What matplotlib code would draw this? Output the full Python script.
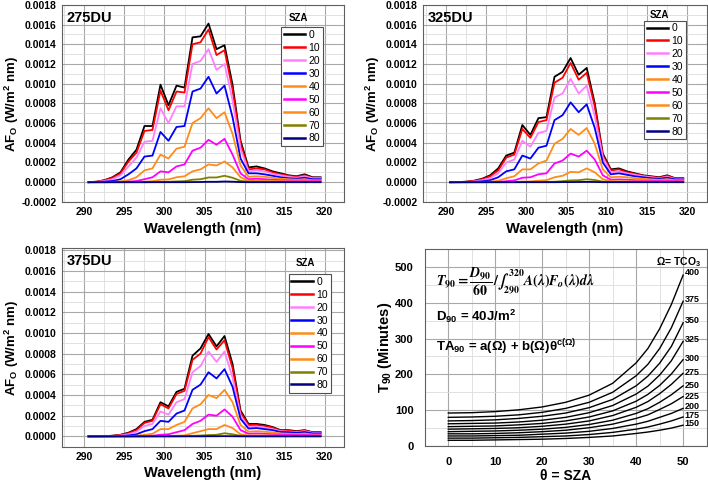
import matplotlib
matplotlib.use("Agg")
import matplotlib.pyplot as plt
from matplotlib.ticker import MultipleLocator, FormatStrFormatter

plt.rcParams['font.family'] = ['Liberation Sans', 'DejaVu Sans']
plt.rcParams['font.weight'] = 'bold'
plt.rcParams['axes.labelweight'] = 'bold'
plt.rcParams['mathtext.fontset'] = 'custom'
plt.rcParams['mathtext.rm'] = 'Liberation Sans:bold'
plt.rcParams['mathtext.it'] = 'Liberation Sans:bold'
plt.rcParams['mathtext.bf'] = 'Liberation Sans:bold'

# ---- data: action spectra AF_O, values in units of 1e-4 W/m^2 nm ----
wavelength = [290.5, 291.5, 292.5, 293.5, 294.5, 295.5, 296.5, 297.5, 298.5, 299.5,
              300.5, 301.5, 302.5, 303.5, 304.5, 305.5, 306.5, 307.5, 308.5, 309.5,
              310.5, 311.5, 312.5, 313.5, 314.5, 315.5, 316.5, 317.5, 318.5, 319.5]
sza_labels = ['0', '10', '20', '30', '40', '50', '60', '70', '80']
sza_colors = ['#000000', '#ff0000', '#ff80ff', '#0000ff', '#ff8c1a',
              '#ff00ff', '#ff8c1a', '#808000', '#000080']
AF_SCALE = 1e-4

af_275 = [
    [0.0, 0.05, 0.2, 0.5, 1.0, 2.3, 3.3, 5.7, 5.7, 9.9, 7.8, 9.8, 9.6, 14.7, 14.8, 16.1, 13.5, 13.9, 9.9, 4.2, 1.5, 1.6, 1.4, 1.1, 0.9, 0.7, 0.6, 0.8, 0.5, 0.5],
    [0.0, 0.04, 0.2, 0.45, 0.9, 2.1, 3.0, 5.2, 5.3, 9.3, 7.3, 9.2, 9.1, 14.0, 14.2, 15.5, 12.9, 13.4, 9.4, 3.9, 1.3, 1.4, 1.3, 1.0, 0.8, 0.65, 0.55, 0.7, 0.45, 0.45],
    [0.0, 0.03, 0.12, 0.3, 0.7, 1.6, 2.5, 4.1, 4.2, 7.5, 6.0, 7.7, 7.7, 12.0, 12.3, 13.5, 11.4, 12.0, 8.3, 3.4, 1.1, 1.2, 1.1, 0.85, 0.7, 0.55, 0.45, 0.6, 0.4, 0.4],
    [0.0, 0.01, 0.05, 0.12, 0.3, 0.8, 1.4, 2.6, 2.7, 5.1, 4.2, 5.6, 5.7, 9.2, 9.5, 10.7, 9.0, 9.8, 6.6, 2.4, 0.9, 0.9, 0.8, 0.65, 0.5, 0.4, 0.35, 0.45, 0.3, 0.3],
    [0.0, 0.0, 0.01, 0.03, 0.08, 0.2, 0.5, 1.2, 1.4, 2.8, 2.4, 3.4, 3.6, 6.0, 6.5, 7.5, 6.5, 7.1, 4.9, 1.7, 0.55, 0.6, 0.55, 0.45, 0.35, 0.3, 0.25, 0.3, 0.2, 0.2],
    [0.0, 0.0, 0.0, 0.01, 0.02, 0.05, 0.12, 0.3, 0.5, 1.1, 1.0, 1.6, 1.8, 3.2, 3.5, 4.3, 3.8, 4.4, 2.8, 0.9, 0.3, 0.35, 0.3, 0.25, 0.2, 0.17, 0.14, 0.17, 0.12, 0.12],
    [0.0, 0.0, 0.0, 0.0, 0.0, 0.01, 0.02, 0.05, 0.1, 0.25, 0.28, 0.5, 0.6, 1.1, 1.3, 1.8, 1.7, 2.1, 1.5, 0.5, 0.15, 0.15, 0.14, 0.12, 0.1, 0.08, 0.07, 0.08, 0.06, 0.06],
    [0.0, 0.0, 0.0, 0.0, 0.0, 0.0, 0.0, 0.0, 0.01, 0.03, 0.04, 0.08, 0.1, 0.25, 0.3, 0.48, 0.48, 0.65, 0.45, 0.14, 0.04, 0.04, 0.04, 0.03, 0.03, 0.02, 0.02, 0.02, 0.02, 0.02],
    [0.0, 0.0, 0.0, 0.0, 0.0, 0.0, 0.0, 0.0, 0.0, 0.0, 0.0, 0.0, 0.0, 0.01, 0.02, 0.04, 0.04, 0.07, 0.05, 0.01, 0.0, 0.0, 0.0, 0.0, 0.0, 0.0, 0.0, 0.0, 0.0, 0.0],
]

af_325 = [
    [0.0, 0.01, 0.05, 0.15, 0.35, 0.7, 1.4, 2.7, 3.0, 5.8, 4.8, 6.5, 6.6, 10.7, 11.2, 12.6, 10.9, 11.6, 8.0, 2.9, 1.3, 1.4, 1.1, 0.9, 0.7, 0.6, 0.5, 0.7, 0.4, 0.4],
    [0.0, 0.01, 0.04, 0.12, 0.3, 0.6, 1.2, 2.5, 2.8, 5.4, 4.5, 6.1, 6.3, 10.1, 10.6, 12.1, 10.4, 11.1, 7.7, 2.7, 1.2, 1.3, 1.0, 0.85, 0.65, 0.55, 0.45, 0.65, 0.38, 0.38],
    [0.0, 0.0, 0.02, 0.07, 0.2, 0.4, 0.9, 2.0, 2.3, 4.2, 3.6, 5.0, 5.2, 8.6, 9.0, 10.5, 9.0, 9.8, 6.7, 2.5, 1.0, 1.1, 0.9, 0.75, 0.6, 0.5, 0.4, 0.55, 0.32, 0.32],
    [0.0, 0.0, 0.01, 0.03, 0.08, 0.2, 0.5, 1.1, 1.3, 2.7, 2.4, 3.5, 3.7, 6.3, 6.8, 8.1, 7.1, 7.9, 5.5, 2.0, 0.8, 0.9, 0.75, 0.6, 0.5, 0.4, 0.35, 0.45, 0.28, 0.28],
    [0.0, 0.0, 0.0, 0.01, 0.02, 0.05, 0.15, 0.4, 0.6, 1.3, 1.3, 1.9, 2.2, 3.9, 4.4, 5.4, 4.8, 5.5, 3.9, 1.3, 0.5, 0.55, 0.5, 0.4, 0.35, 0.28, 0.24, 0.3, 0.2, 0.2],
    [0.0, 0.0, 0.0, 0.0, 0.0, 0.01, 0.03, 0.1, 0.18, 0.45, 0.5, 0.8, 0.9, 1.9, 2.2, 2.9, 2.6, 3.2, 2.3, 0.7, 0.25, 0.28, 0.25, 0.2, 0.17, 0.14, 0.12, 0.15, 0.1, 0.1],
    [0.0, 0.0, 0.0, 0.0, 0.0, 0.0, 0.0, 0.01, 0.02, 0.06, 0.08, 0.15, 0.2, 0.5, 0.65, 1.05, 1.0, 1.4, 1.0, 0.3, 0.1, 0.1, 0.09, 0.08, 0.07, 0.06, 0.05, 0.06, 0.04, 0.04],
    [0.0, 0.0, 0.0, 0.0, 0.0, 0.0, 0.0, 0.0, 0.0, 0.01, 0.01, 0.02, 0.03, 0.05, 0.1, 0.18, 0.2, 0.3, 0.22, 0.06, 0.02, 0.02, 0.02, 0.02, 0.01, 0.01, 0.01, 0.01, 0.01, 0.01],
    [0.0, 0.0, 0.0, 0.0, 0.0, 0.0, 0.0, 0.0, 0.0, 0.0, 0.0, 0.0, 0.0, 0.0, 0.01, 0.01, 0.02, 0.03, 0.02, 0.0, 0.0, 0.0, 0.0, 0.0, 0.0, 0.0, 0.0, 0.0, 0.0, 0.0],
]

af_375 = [
    [0.0, 0.0, 0.02, 0.06, 0.15, 0.35, 0.7, 1.4, 1.6, 3.3, 2.9, 4.3, 4.6, 7.8, 8.5, 9.9, 8.7, 9.7, 7.0, 2.5, 1.2, 1.2, 1.1, 0.9, 0.6, 0.6, 0.5, 0.6, 0.4, 0.4],
    [0.0, 0.0, 0.02, 0.05, 0.13, 0.3, 0.6, 1.3, 1.5, 3.1, 2.7, 4.1, 4.4, 7.4, 8.0, 9.6, 8.4, 9.3, 6.6, 2.3, 1.1, 1.1, 1.0, 0.85, 0.55, 0.55, 0.45, 0.55, 0.38, 0.38],
    [0.0, 0.0, 0.01, 0.03, 0.08, 0.2, 0.45, 1.0, 1.2, 2.4, 2.1, 3.3, 3.6, 6.2, 6.8, 8.2, 7.2, 8.2, 5.7, 2.0, 0.9, 0.95, 0.85, 0.7, 0.5, 0.45, 0.4, 0.5, 0.33, 0.33],
    [0.0, 0.0, 0.0, 0.01, 0.03, 0.08, 0.2, 0.5, 0.7, 1.5, 1.4, 2.2, 2.5, 4.5, 5.0, 6.2, 5.6, 6.5, 4.8, 1.7, 0.75, 0.8, 0.7, 0.6, 0.42, 0.4, 0.34, 0.42, 0.28, 0.28],
    [0.0, 0.0, 0.0, 0.0, 0.01, 0.02, 0.06, 0.15, 0.25, 0.7, 0.7, 1.1, 1.4, 2.7, 3.1, 4.0, 3.7, 4.5, 3.3, 1.1, 0.45, 0.5, 0.45, 0.38, 0.28, 0.26, 0.22, 0.27, 0.18, 0.18],
    [0.0, 0.0, 0.0, 0.0, 0.0, 0.0, 0.01, 0.03, 0.06, 0.15, 0.2, 0.4, 0.6, 1.2, 1.5, 2.1, 2.0, 2.6, 1.9, 0.6, 0.25, 0.28, 0.25, 0.2, 0.16, 0.15, 0.12, 0.15, 0.1, 0.1],
    [0.0, 0.0, 0.0, 0.0, 0.0, 0.0, 0.0, 0.0, 0.01, 0.02, 0.03, 0.06, 0.1, 0.3, 0.5, 0.7, 0.7, 1.1, 0.8, 0.2, 0.08, 0.1, 0.09, 0.08, 0.06, 0.05, 0.05, 0.06, 0.04, 0.04],
    [0.0, 0.0, 0.0, 0.0, 0.0, 0.0, 0.0, 0.0, 0.0, 0.0, 0.0, 0.01, 0.02, 0.05, 0.08, 0.12, 0.15, 0.3, 0.2, 0.05, 0.01, 0.01, 0.01, 0.01, 0.01, 0.01, 0.01, 0.01, 0.01, 0.01],
    [0.0, 0.0, 0.0, 0.0, 0.0, 0.0, 0.0, 0.0, 0.0, 0.0, 0.0, 0.0, 0.0, 0.0, 0.0, 0.01, 0.01, 0.02, 0.01, 0.0, 0.0, 0.0, 0.0, 0.0, 0.0, 0.0, 0.0, 0.0, 0.0, 0.0],
]

# ---- data: T90 (minutes) vs SZA for each total column ozone ----
theta = [0, 5, 10, 15, 20, 25, 30, 35, 40, 42.5, 45, 47.5, 50]
tco3 = ['400', '375', '350', '325', '300', '275', '250', '225', '200', '175', '150']
t90 = [
    [92, 93, 96, 101, 109, 122, 142, 175, 232, 272, 327, 395, 477],
    [80, 81, 83, 87, 94, 105, 122, 150, 196, 228, 272, 330, 404],
    [70, 71, 73, 77, 83, 92, 107, 130, 168, 195, 231, 278, 344],
    [62, 63, 64, 67, 72, 80, 93, 113, 145, 167, 198, 238, 292],
    [54, 55, 56, 59, 63, 70, 81, 98, 125, 144, 169, 201, 241],
    [47, 48, 49, 51, 55, 61, 70, 85, 108, 124, 146, 172, 203],
    [40, 41, 42, 44, 47, 52, 60, 72, 91, 104, 122, 143, 168],
    [34, 34, 35, 37, 40, 44, 51, 61, 77, 87, 102, 118, 138],
    [28, 28, 29, 30, 33, 36, 41, 49, 61, 69, 80, 91, 105],
    [22, 22, 23, 24, 26, 28, 32, 38, 47, 53, 61, 70, 81],
    [16, 16, 17, 18, 19, 21, 24, 28, 35, 39, 44, 50, 58],
]
label_y = [484, 410, 350, 297, 245, 206, 168, 137, 109, 86, 62]


def style_grid(ax):
    ax.grid(which='major', color='#a8a8a8', lw=0.8)
    ax.grid(which='minor', color='#dcdcdc', lw=0.6)
    ax.set_axisbelow(True)
    for s in ax.spines.values():
        s.set_color('#606060')
        s.set_linewidth(0.8)
    ax.tick_params(which='both', length=0, labelsize=7.5, pad=4)


def plot_af(rect, series, name, ylim, leg_xy, sza_xy):
    ax = fig.add_axes(rect)
    for vals, lab, c in zip(series, sza_labels, sza_colors):
        ax.plot(wavelength, [v * AF_SCALE for v in vals], color=c, lw=1.3, label=lab)
    ax.set_xlim(287.2, 322.4)
    ax.set_ylim(*ylim)
    ax.xaxis.set_major_locator(MultipleLocator(5))
    ax.xaxis.set_minor_locator(MultipleLocator(2.5))
    ax.yaxis.set_major_locator(MultipleLocator(0.0002))
    ax.yaxis.set_minor_locator(MultipleLocator(0.0001))
    ax.yaxis.set_major_formatter(FormatStrFormatter('%.4f'))
    style_grid(ax)
    ax.set_xlabel('Wavelength (nm)', fontsize=10.5, labelpad=3)
    ax.set_ylabel(r'AF$_\mathrm{O}$ (W/m$^2$ nm)', fontsize=9.5)
    ax.yaxis.set_label_coords(-0.145, 0.5)
    ax.text(0.015, 0.935, name, transform=ax.transAxes, fontsize=10.5,
            ha='left', va='center')
    ax.text(sza_xy[0], sza_xy[1], 'SZA', transform=ax.transAxes, fontsize=7,
            ha='center', va='center')
    leg = ax.legend(loc='upper left', bbox_to_anchor=leg_xy,
                    frameon=True, fancybox=False, framealpha=1,
                    edgecolor='#505050', borderpad=0.25, labelspacing=0.28,
                    handlelength=2.1, handletextpad=0.3, borderaxespad=0,
                    prop={'weight': 'normal', 'size': 7.5})
    leg.get_frame().set_linewidth(0.8)
    for line in leg.get_lines():
        line.set_linewidth(1.8)
    return ax


fig = plt.figure(figsize=(7.08, 4.83), dpi=100)

plot_af([0.0876, 0.582, 0.398, 0.408], af_275, '275DU', (-0.0002, 0.0018),
        (0.777, 0.885), (0.84, 0.932))
plot_af([0.598, 0.582, 0.400, 0.408], af_325, '325DU', (-0.0002, 0.0018),
        (0.779, 0.92), (0.835, 0.949))
plot_af([0.0876, 0.0752, 0.398, 0.411], af_375, '375DU', (-0.0001, 0.00182),
        (0.805, 0.869), (0.864, 0.927))

ax4 = fig.add_axes([0.600, 0.0766, 0.398, 0.408])
for vals, lab, ly in zip(t90, tco3, label_y):
    ax4.plot(theta, vals, color='black', lw=1.0)
    ax4.text(50.3, ly, lab, fontsize=6.5, ha='left', va='center')
ax4.set_xlim(-5, 55)
ax4.set_ylim(0, 550)
ax4.xaxis.set_major_locator(MultipleLocator(10))
ax4.xaxis.set_minor_locator(MultipleLocator(5))
ax4.yaxis.set_major_locator(MultipleLocator(100))
ax4.yaxis.set_minor_locator(MultipleLocator(50))
style_grid(ax4)
ax4.tick_params(axis='x', which='both', labelsize=8, pad=8)
ax4.tick_params(axis='y', which='both', labelsize=8, pad=8)
ax4.set_xlabel('θ = SZA', fontsize=10, labelpad=1)
ax4.set_ylabel(r'T$_{90}$ (Minutes)', fontsize=10.5)
ax4.yaxis.set_label_coords(-0.11, 0.5)
ax4.text(44.3, 513, r'Ω= TCO$_3$', fontsize=7.5, ha='left', va='center')
ax4.text(-2.6, 458,
         r'$T_{90} = \dfrac{D_{90}}{60}\,/\int_{290}^{320} A(\lambda)F_o(\lambda)d\lambda$',
         math_fontfamily='stix', fontsize=10, fontweight='normal',
         ha='left', va='center')
ax4.text(-2.6, 362, r'D$_{90}$ = 40J/m$^2$', fontsize=9.5, ha='left', va='center')
ax4.text(-2.6, 276, r'TA$_{90}$ = a(Ω) + b(Ω)θ$^{c(Ω)}$', fontsize=9.5,
         ha='left', va='center')

fig.savefig('out.png', dpi=100)
